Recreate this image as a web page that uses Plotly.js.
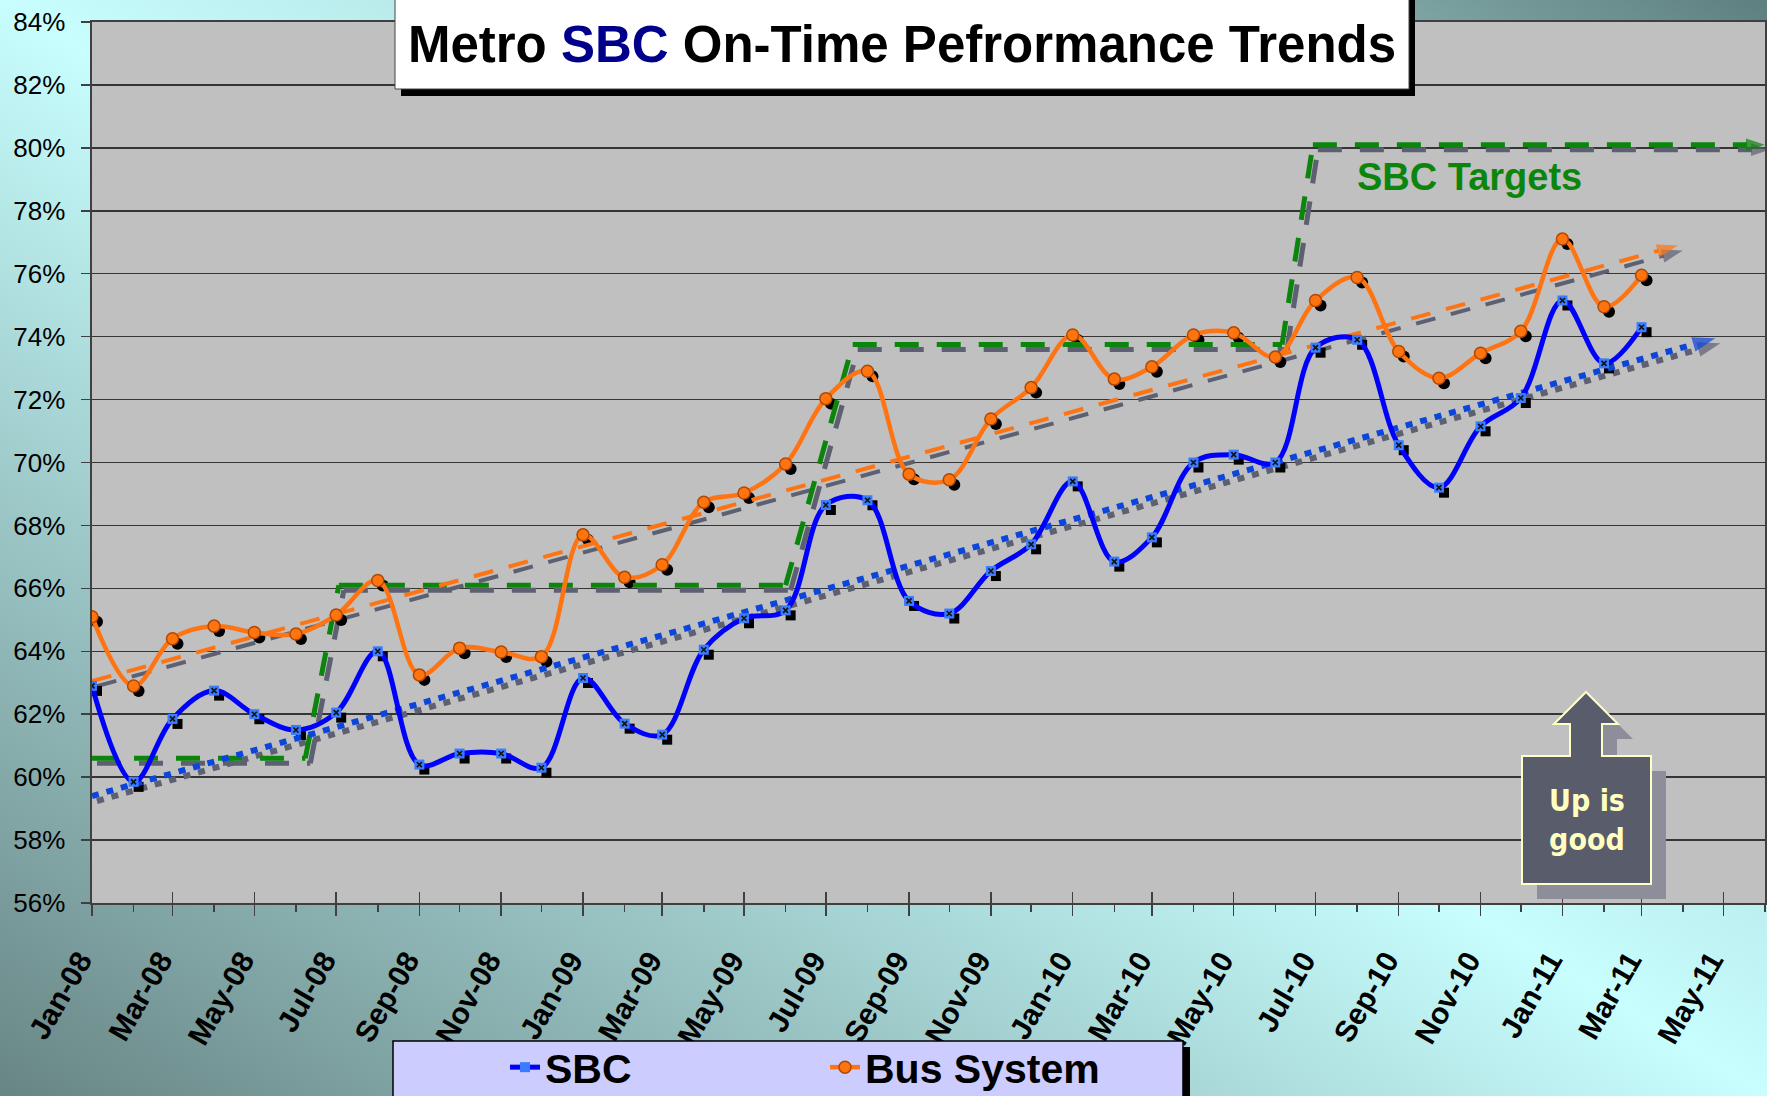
<!DOCTYPE html>
<html><head><meta charset="utf-8">
<script src="https://cdn.plot.ly/plotly-3.0.1.min.js"></script>
<style>
html,body{margin:0;padding:0;width:1767px;height:1096px;overflow:hidden;}
body{background:linear-gradient(to top right,#688585 0%,#9ec9c9 28%,#c8fefe 50%,#a7d3d3 75%,#5e7f7f 100%);}
#chart{width:1767px;height:1096px;}
</style></head><body><div id="chart"></div><script>
// ---------------- data ----------------
const months = ['2008-01-01','2008-02-01','2008-03-01','2008-04-01','2008-05-01','2008-06-01','2008-07-01','2008-08-01','2008-09-01','2008-10-01','2008-11-01','2008-12-01',
 '2009-01-01','2009-02-01','2009-03-01','2009-04-01','2009-05-01','2009-06-01','2009-07-01','2009-08-01','2009-09-01','2009-10-01','2009-11-01','2009-12-01',
 '2010-01-01','2010-02-01','2010-03-01','2010-04-01','2010-05-01','2010-06-01','2010-07-01','2010-08-01','2010-09-01','2010-10-01','2010-11-01','2010-12-01',
 '2011-01-01','2011-02-01','2011-03-01'];
const sbc = [62.9,59.85,61.85,62.75,62.0,61.5,62.05,64.0,60.4,60.75,60.75,60.3,
 63.15,61.7,61.35,64.05,65.05,65.3,68.65,68.8,65.6,65.2,66.55,67.4,
 69.4,66.85,67.62,70.0,70.25,70.0,73.65,73.9,70.55,69.2,71.15,72.05,
 75.15,73.15,74.3];
const bus = [65.1,62.9,64.4,64.8,64.6,64.55,65.15,66.25,63.25,64.1,63.98,63.83,
 67.7,66.35,66.75,68.74,69.03,69.95,72.03,72.9,69.63,69.45,71.38,72.38,
 74.05,72.65,73.04,74.05,74.12,73.35,75.15,75.88,73.53,72.68,73.47,74.17,
 77.1,74.95,75.95];
const sbcTrendX = ['2008-01-01','2011-04-25'];
const sbcTrendY = [59.4,73.95];
const busTrendX = ['2008-01-01','2011-03-28'];
const busTrendY = [63.05,76.9];
const targetX = ['2008-01-01','2008-06-08','2008-07-03','2009-06-01','2009-07-21','2010-06-06','2010-06-29','2011-06-01'];
const targetY = [60.6,60.6,66.1,66.1,73.75,73.75,80.1,80.1];
const seriesNames = ['SBC','Bus System'];
const xStart = '2008-01-01', xEnd = '2011-06-01';
const yMin = 56, yMax = 84, yStep = 2;

// ---------------- geometry / style ----------------
const W = 1767, H = 1096, M = {l:92, r:2, t:22, b:193};
const PW = W - M.l - M.r, PH = H - M.t - M.b;
const px2x = p => (p - M.l) / PW;
const py2y = p => (H - M.b - p) / PH;
const FONT = 'Liberation Sans, Arial, sans-serif';
const SH = 5; // shadow offset in px
const t0 = Date.parse(xStart), t1 = Date.parse(xEnd);
const msPx = (t1 - t0) / PW, yPx = (yMax - yMin) / PH;
const SHC = '#5c6070';
const GREEN = '#0b850b', BLUE = '#0000ff', ORANGE = '#ff7412', TBLUE = '#0b45dc';
const lastOnly = (n, s) => Array.from({length:n}, (_, i) => i === n - 1 ? s : 0);

function arrowTrace(x, y, color, width, dash, asize, axes) {
  return {x, y, type:'scatter', mode:'lines+markers', xaxis:axes[0], yaxis:axes[1],
    line:{color, width, dash},
    marker:{symbol:'arrow', angleref:'previous', size:lastOnly(x.length, asize), color, line:{width:0}},
    showlegend:false, hoverinfo:'skip'};
}
const S = ['x','y'], Mn = ['x2','y2'];
const data = [
  // shadows (base axes shifted by SH px)
  arrowTrace(targetX, targetY, SHC, 5, '24px,18px', 20, S),
  arrowTrace(sbcTrendX, sbcTrendY, SHC, 6, '7px,8px', 24, S),
  arrowTrace(busTrendX, busTrendY, SHC, 4, '20px,16px', 22, S),
  {x:months, y:sbc, type:'scatter', mode:'markers', xaxis:'x', yaxis:'y', marker:{symbol:'square', size:10, color:'#000'}, showlegend:false, hoverinfo:'skip'},
  {x:months, y:bus, type:'scatter', mode:'markers', xaxis:'x', yaxis:'y', marker:{symbol:'circle', size:12, color:'#000'}, showlegend:false, hoverinfo:'skip'},
  // main
  arrowTrace(targetX, targetY, GREEN, 5, '24px,18px', 20, Mn),
  arrowTrace(sbcTrendX, sbcTrendY, TBLUE, 6, '7px,8px', 24, Mn),
  arrowTrace(busTrendX, busTrendY, ORANGE, 4, '20px,16px', 22, Mn),
  {x:months, y:sbc, name:seriesNames[0], type:'scatter', mode:'lines+markers', xaxis:'x2', yaxis:'y2',
   line:{color:BLUE, width:5, shape:'spline', smoothing:1},
   marker:{symbol:'square', size:10, color:'#3a7cff', line:{width:0}}, hoverinfo:'skip'},
  {x:months, y:sbc, type:'scatter', mode:'markers', xaxis:'x2', yaxis:'y2',
   marker:{symbol:'x-thin', size:5, color:'#111', line:{color:'#111', width:1.6}}, showlegend:false, hoverinfo:'skip'},
  {x:months, y:bus, name:seriesNames[1], type:'scatter', mode:'lines+markers', xaxis:'x2', yaxis:'y2',
   line:{color:ORANGE, width:4.5, shape:'spline', smoothing:1},
   marker:{symbol:'circle', size:12, color:'#ff740f', line:{color:'#b24800', width:1.5}}, hoverinfo:'skip'},
  {x:[], y:[], type:'scatter', mode:'markers', xaxis:'x3', yaxis:'y2', showlegend:false, hoverinfo:'skip'}
];

function pathFrom(pts) {
  return 'M' + pts.map(p => px2x(p[0]).toFixed(5) + ',' + py2y(p[1]).toFixed(5)).join(' L') + ' Z';
}
const callout = [[1522,884],[1522,756],[1570,756],[1570,724],[1554,724],[1586,692],[1618,724],[1602,724],[1602,756],[1651,756],[1651,884]];
const calloutSh = callout.map(p => [p[0] + 15, p[1] + 15]);
function rectPx(x0, y0, x1, y1, fill, lc, lw) {
  return {type:'rect', xref:'paper', yref:'paper', layer:'above', x0:px2x(x0), x1:px2x(x1), y0:py2y(y1), y1:py2y(y0),
    fillcolor:fill, line:{color:lc || fill, width:lw || 0}};
}
const shapes = [
  rectPx(401, -10, 1415, 96, '#000'),
  rectPx(395, -5, 1409, 89, '#ffffff', '#444', 1),
  rectPx(400, 1047, 1190, 1130, '#000'),
  rectPx(393, 1041, 1183, 1130, '#ccccff', '#000', 1.5),
  {type:'path', xref:'paper', yref:'paper', layer:'above', path:pathFrom(calloutSh), fillcolor:'#8d8e99', line:{width:0}},
  {type:'path', xref:'paper', yref:'paper', layer:'above', path:pathFrom(callout), fillcolor:'#595c6b', line:{color:'#ffffc8', width:2}}
];
const annotations = [
  {xref:'paper', yref:'paper', x:px2x(1469), y:py2y(177), text:'SBC Targets', showarrow:false,
   font:{family:FONT, size:38, color:GREEN, weight:'bold'}, xanchor:'center', yanchor:'middle'},
  {xref:'paper', yref:'paper', x:px2x(1587), y:py2y(820), text:'Up is<br>good', showarrow:false,
   font:{family:'DejaVu Sans Condensed, DejaVu Sans, sans-serif', size:30, color:'#ffffc0', weight:'bold'}, xanchor:'center', yanchor:'middle'}
];
const tickStyle = {tickcolor:'#404040', tickwidth:1.5};
const layout = {
  width:W, height:H, margin:{l:M.l, r:M.r, t:M.t, b:M.b, pad:0, autoexpand:false},
  paper_bgcolor:'rgba(0,0,0,0)', plot_bgcolor:'#c0c0c0',
  title:{text:'Metro <span style="color:#00008b">SBC</span> On-Time Pefrormance Trends',
    font:{family:FONT, size:51, color:'#000', weight:'bold'},
    xref:'container', yref:'container', x:902/W, xanchor:'center', y:1 - 44/H, yanchor:'middle'},
  xaxis:{type:'date', range:[t0 - SH*msPx, t1 - SH*msPx], visible:false, fixedrange:true},
  yaxis:{range:[yMin + SH*yPx, yMax + SH*yPx], visible:false, fixedrange:true},
  xaxis2:Object.assign({overlaying:'x', anchor:'y', side:'bottom', type:'date', range:[t0, t1],
    tick0:xStart, dtick:'M2', tickformat:'%b-%y', tickangle:-60, ticks:'outside', ticklen:11,
    ticklabelstandoff:15, ticklabelshift:-12,
    minor:Object.assign({dtick:'M1', tick0:xStart, ticks:'outside', ticklen:7, showgrid:false}, tickStyle),
    showgrid:false, showline:true, linecolor:'#404040', linewidth:2, mirror:true,
    tickfont:{family:FONT, size:30, color:'#000', weight:'bold'}}, tickStyle),
  xaxis3:Object.assign({overlaying:'x', anchor:'y', side:'bottom', type:'date', range:[t0, t1],
    tick0:xStart, dtick:'M2', ticks:'inside', ticklen:11, showticklabels:false, showgrid:false, showline:false}, tickStyle),
  yaxis2:Object.assign({overlaying:'y', anchor:'x', side:'left', range:[yMin, yMax], tick0:yMin, dtick:yStep,
    ticksuffix:'%', ticks:'outside', ticklen:9, showgrid:true, gridcolor:'#353535', gridwidth:1.5,
    showline:true, linecolor:'#404040', linewidth:2.5, mirror:true, zeroline:false, ticklabelstandoff:10,
    tickfont:{family:FONT, size:26, color:'#000'}}, tickStyle),
  showlegend:true,
  legend:{orientation:'h', x:px2x(505), y:py2y(1034), xanchor:'left', yanchor:'top', bgcolor:'rgba(0,0,0,0)', borderwidth:0,
    font:{family:FONT, size:41, color:'#000', weight:'bold'}, entrywidth:275, entrywidthmode:'pixels'},
  shapes, annotations
};
Plotly.newPlot('chart', data, layout, {staticPlot:true});
</script></body></html>
